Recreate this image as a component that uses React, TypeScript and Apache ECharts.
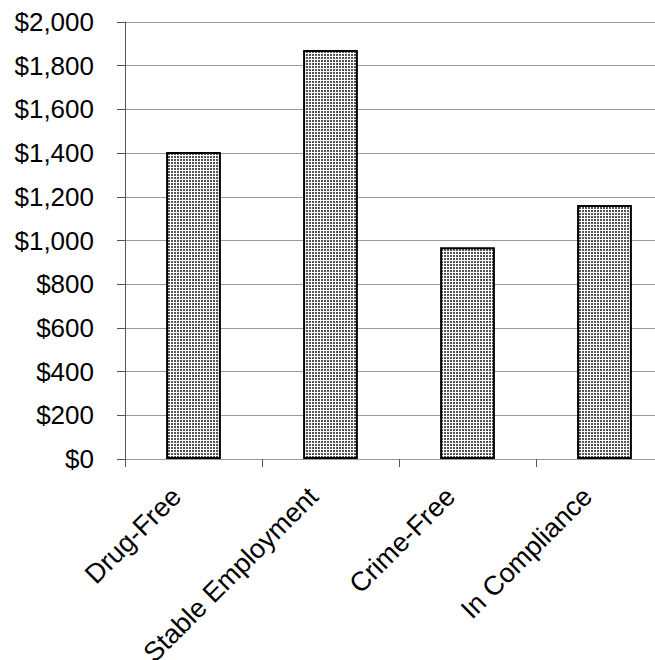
import React, { useEffect, useRef } from "react";
import * as echarts from "echarts";

const categories = ["Drug-Free", "Stable Employment", "Crime-Free", "In Compliance"];
const values = [1405, 1872, 969, 1162];
const yMin = 0;
const yMax = 2000;
const yInterval = 200;

function makePattern(): HTMLCanvasElement {
  const c = document.createElement("canvas");
  c.width = 3;
  c.height = 3;
  const ctx = c.getContext("2d")!;
  ctx.fillStyle = "#ffffff";
  ctx.fillRect(0, 0, 3, 3);
  ctx.fillStyle = "#555555";
  ctx.fillRect(0, 0, 2, 2);
  return c;
}

export default function App() {
  const ref = useRef<HTMLDivElement>(null);
  useEffect(() => {
    document.body.style.margin = "0";
    const chart = echarts.init(ref.current!, null, { renderer: "svg" });
    const font = "Arial, 'Liberation Sans', Helvetica, sans-serif";
    chart.setOption({
      animation: false,
      backgroundColor: "#ffffff",
      grid: {
        left: 125,
        top: 22,
        right: 7,
        bottom: 201,
        containLabel: false,
        outerBoundsMode: "none",
      },
      xAxis: {
        type: "category",
        data: categories,
        axisLine: { show: true, lineStyle: { color: "#999999", width: 1 } },
        axisTick: { show: true, alignWithLabel: false, length: 8, lineStyle: { color: "#555555", width: 1 } },
        axisLabel: {
          rotate: 45,
          interval: 0,
          margin: 16,
          fontSize: 27,
          color: "#000000",
          fontFamily: font,
          padding: [0, 24, 0, 0],
        },
        splitLine: { show: false },
      },
      yAxis: {
        type: "value",
        min: yMin,
        max: yMax,
        interval: yInterval,
        axisLine: { show: true, lineStyle: { color: "#555555", width: 1 } },
        axisTick: { show: true, length: 8, lineStyle: { color: "#555555", width: 1 } },
        axisLabel: {
          margin: 31,
          fontSize: 26,
          color: "#000000",
          fontFamily: font,
          formatter: (v: number) => "$" + v.toLocaleString("en-US"),
        },
        splitLine: { show: true, lineStyle: { color: "#999999", width: 1 } },
      },
      series: [
        {
          type: "bar",
          data: values,
          barWidth: "40%",
          itemStyle: {
            color: { image: makePattern(), repeat: "repeat" },
            borderColor: "#000000",
            borderWidth: 2,
          },
        },
      ],
    });
    return () => chart.dispose();
  }, []);
  return (
    <div style={{ width: 655, height: 660, overflow: "hidden" }}>
      <div ref={ref} style={{ width: 680, height: 660 }} />
    </div>
  );
}
